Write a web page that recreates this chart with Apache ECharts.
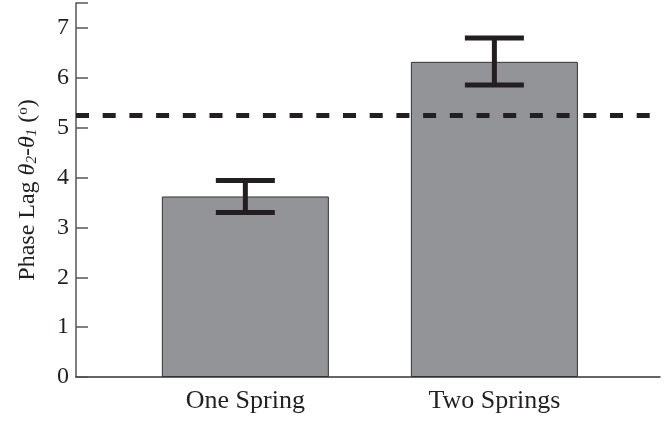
<!DOCTYPE html>
<html>
<head>
<meta charset="utf-8">
<script src="https://cdn.jsdelivr.net/npm/echarts@6/dist/echarts.min.js"></script>
<style>html,body{margin:0;padding:0;background:#fff}#c{width:670px;height:421px}</style>
</head>
<body>
<div id="c"></div>
<script>
const categories = ['One Spring', 'Two Springs'];
const positions = [1, 2];
const means = [3.62, 6.32];
const errLow = [3.30, 5.855];
const errHigh = [3.94, 6.80];
const referenceLine = 5.25;
const yTicks = [0, 1, 2, 3, 4, 5, 6, 7];

const chart = echarts.init(document.getElementById('c'));
const font = 'Liberation Serif';
chart.setOption({
  animation: false,
  grid: {left: 76, right: 10, top: 3, bottom: 44},
  xAxis: {
    type: 'value', min: 0.32, max: 2.665,
    splitLine: {show: false},
    axisLine: {show: true, lineStyle: {color: '#333', width: 1.5}},
    axisTick: {show: false},
    axisLabel: {
      customValues: positions,
      formatter: v => categories[positions.indexOf(v)] || '',
      fontFamily: font, fontSize: 26, color: '#231f20', margin: 11
    }
  },
  yAxis: {
    type: 'value', min: 0, max: 7.5, interval: 1,
    splitLine: {show: false},
    axisLine: {show: true, lineStyle: {color: '#555', width: 1.5}},
    axisTick: {inside: true, length: 12, lineStyle: {color: '#555', width: 1.5}},
    axisLabel: {
      fontFamily: font, fontSize: 24, color: '#231f20', margin: 7,
      formatter: v => (yTicks.indexOf(v) >= 0 ? String(v) : '')
    },
    name: 'Phase Lag {i|θ}{sub|2}-{i|θ}{sub|1} ({sup|o})',
    nameLocation: 'middle', nameGap: 36, nameRotate: 90,
    nameTextStyle: {
      fontFamily: font, fontSize: 24, color: '#231f20',
      rich: {
        i: {fontFamily: font, fontSize: 24, fontStyle: 'italic', color: '#231f20'},
        sub: {fontFamily: font, fontSize: 15, fontStyle: 'italic', color: '#231f20', verticalAlign: 'bottom', padding: [9, 0, 0, 0]},
        sup: {fontFamily: font, fontSize: 15, color: '#231f20', verticalAlign: 'top', padding: [0, 0, 9, 0]}
      }
    }
  },
  series: [
    {
      type: 'bar',
      data: positions.map((p, i) => [p, means[i]]),
      barWidth: 167,
      itemStyle: {color: '#939498', borderColor: '#333', borderWidth: 1},
      markLine: {
        silent: true, symbol: 'none', label: {show: false},
        lineStyle: {color: '#231f20', width: 5, type: [13, 13.7]},
        data: [{yAxis: referenceLine}]
      },
      z: 2
    },
    {
      type: 'custom',
      data: positions.map((p, i) => [p, errLow[i], errHigh[i]]),
      renderItem: (params, api) => {
        const lo = api.coord([api.value(0), api.value(1)]);
        const hi = api.coord([api.value(0), api.value(2)]);
        const hw = 29.5;
        const st = {stroke: '#231f20', lineWidth: 5};
        return {
          type: 'group',
          children: [
            {type: 'line', shape: {x1: lo[0], y1: lo[1], x2: hi[0], y2: hi[1]}, style: st},
            {type: 'line', shape: {x1: lo[0] - hw, y1: lo[1], x2: lo[0] + hw, y2: lo[1]}, style: st},
            {type: 'line', shape: {x1: hi[0] - hw, y1: hi[1], x2: hi[0] + hw, y2: hi[1]}, style: st}
          ]
        };
      },
      z: 3
    }
  ]
});
</script>
</body>
</html>
